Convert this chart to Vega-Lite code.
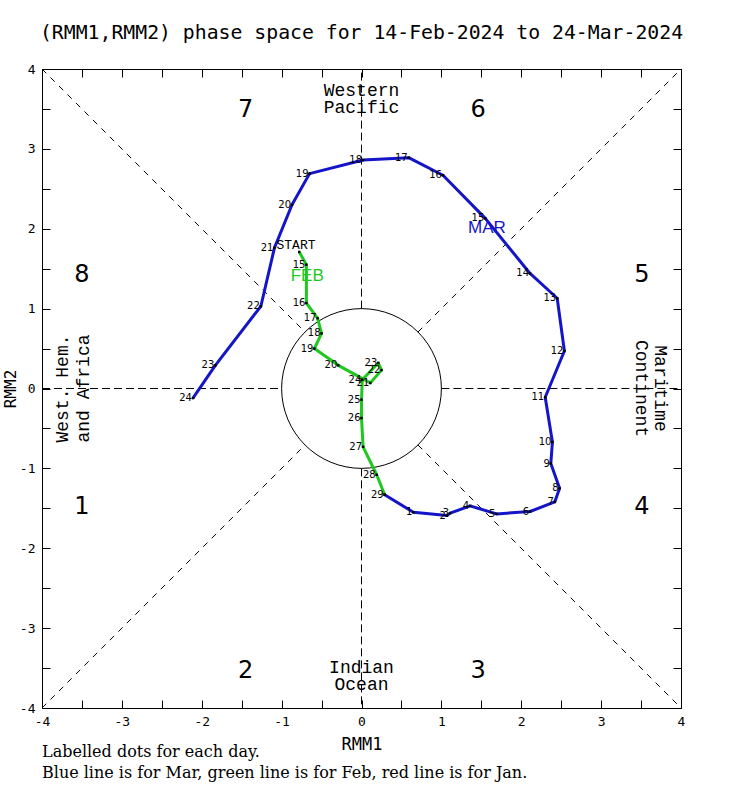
{
  "$schema": "https://vega.github.io/schema/vega-lite/v6.json",
  "width": 639,
  "height": 639,
  "autosize": {"type": "none"},
  "padding": {"left": 42, "top": 69, "right": 50, "bottom": 79},
  "background": "white",
  "title": {
    "text": "(RMM1,RMM2) phase space for 14-Feb-2024 to 24-Mar-2024",
    "font": "DejaVu Sans Mono",
    "fontSize": 19.8,
    "fontWeight": "normal",
    "color": "black",
    "anchor": "middle",
    "offset": 20
  },
  "config": {
    "view": {"stroke": "black", "strokeWidth": 1},
    "axis": {
      "grid": false,
      "domainColor": "black",
      "tickColor": "black",
      "tickSize": -8,
      "labelPadding": 15,
      "values": [-4, -3.5, -3, -2.5, -2, -1.5, -1, -0.5, 0, 0.5, 1, 1.5, 2, 2.5, 3, 3.5, 4],
      "labelExpr": "datum.value % 1 == 0 ? toString(datum.value) : ''",
      "labelFont": "DejaVu Sans Mono",
      "labelFontSize": 13,
      "labelColor": "black",
      "labelFlush": false,
      "labelOverlap": false,
      "titleFont": "DejaVu Sans Mono",
      "titleFontSize": 17,
      "titleFontWeight": "normal",
      "titleColor": "black"
    }
  },
  "resolve": {"axis": {"x": "independent", "y": "independent"}},
  "datasets": {
    "pts": [
      {"m": "Feb", "d": 14, "lab": "", "x": -0.78, "y": 1.71},
      {"m": "Feb", "d": 15, "lab": "15", "x": -0.69, "y": 1.55},
      {"m": "Feb", "d": 16, "lab": "16", "x": -0.69, "y": 1.07},
      {"m": "Feb", "d": 17, "lab": "17", "x": -0.55, "y": 0.88},
      {"m": "Feb", "d": 18, "lab": "18", "x": -0.5, "y": 0.69},
      {"m": "Feb", "d": 19, "lab": "19", "x": -0.59, "y": 0.5},
      {"m": "Feb", "d": 20, "lab": "20", "x": -0.29, "y": 0.29},
      {"m": "Feb", "d": 21, "lab": "21", "x": 0.11, "y": 0.07},
      {"m": "Feb", "d": 22, "lab": "22", "x": 0.25, "y": 0.23},
      {"m": "Feb", "d": 23, "lab": "23", "x": 0.21, "y": 0.32},
      {"m": "Feb", "d": 24, "lab": "24", "x": 0.01, "y": 0.11},
      {"m": "Feb", "d": 25, "lab": "25", "x": 0.0, "y": -0.14},
      {"m": "Feb", "d": 26, "lab": "26", "x": 0.0, "y": -0.37},
      {"m": "Feb", "d": 27, "lab": "27", "x": 0.02, "y": -0.73},
      {"m": "Feb", "d": 28, "lab": "28", "x": 0.19, "y": -1.08},
      {"m": "Feb", "d": 29, "lab": "29", "x": 0.29, "y": -1.33},
      {"m": "Mar", "d": 0, "lab": "", "x": 0.29, "y": -1.33},
      {"m": "Mar", "d": 1, "lab": "1", "x": 0.65, "y": -1.55},
      {"m": "Mar", "d": 2, "lab": "2", "x": 1.07, "y": -1.59},
      {"m": "Mar", "d": 3, "lab": "3", "x": 1.11, "y": -1.56},
      {"m": "Mar", "d": 4, "lab": "4", "x": 1.36, "y": -1.47},
      {"m": "Mar", "d": 5, "lab": "5", "x": 1.69, "y": -1.57},
      {"m": "Mar", "d": 6, "lab": "6", "x": 2.11, "y": -1.54},
      {"m": "Mar", "d": 7, "lab": "7", "x": 2.42, "y": -1.42},
      {"m": "Mar", "d": 8, "lab": "8", "x": 2.48, "y": -1.25},
      {"m": "Mar", "d": 9, "lab": "9", "x": 2.37, "y": -0.94},
      {"m": "Mar", "d": 10, "lab": "10", "x": 2.39, "y": -0.67},
      {"m": "Mar", "d": 11, "lab": "11", "x": 2.3, "y": -0.11},
      {"m": "Mar", "d": 12, "lab": "12", "x": 2.54, "y": 0.47},
      {"m": "Mar", "d": 13, "lab": "13", "x": 2.45, "y": 1.13},
      {"m": "Mar", "d": 14, "lab": "14", "x": 2.11, "y": 1.44},
      {"m": "Mar", "d": 15, "lab": "15", "x": 1.55, "y": 2.13},
      {"m": "Mar", "d": 16, "lab": "16", "x": 1.02, "y": 2.67},
      {"m": "Mar", "d": 17, "lab": "17", "x": 0.59, "y": 2.89},
      {"m": "Mar", "d": 18, "lab": "18", "x": 0.02, "y": 2.86},
      {"m": "Mar", "d": 19, "lab": "19", "x": -0.65, "y": 2.69},
      {"m": "Mar", "d": 20, "lab": "20", "x": -0.87, "y": 2.3},
      {"m": "Mar", "d": 21, "lab": "21", "x": -1.09, "y": 1.76},
      {"m": "Mar", "d": 22, "lab": "22", "x": -1.26, "y": 1.03},
      {"m": "Mar", "d": 23, "lab": "23", "x": -1.83, "y": 0.29},
      {"m": "Mar", "d": 24, "lab": "24", "x": -2.11, "y": -0.12}
    ],
    "axlines": [
      {"x": 0, "y": 1, "x2": 0, "y2": 4},
      {"x": 0, "y": -1, "x2": 0, "y2": -4},
      {"x": -4, "y": 0, "x2": -1, "y2": 0},
      {"x": 1, "y": 0, "x2": 4, "y2": 0}
    ],
    "diags": [
      {"x": -4, "y": -4, "x2": -0.7071, "y2": -0.7071},
      {"x": 0.7071, "y": 0.7071, "x2": 4, "y2": 4},
      {"x": -4, "y": 4, "x2": -0.7071, "y2": 0.7071},
      {"x": 0.7071, "y": -0.7071, "x2": 4, "y2": -4}
    ],
    "phases": [
      {"x": -1.45, "y": 3.49, "t": "7"},
      {"x": 1.46, "y": 3.49, "t": "6"},
      {"x": -3.5, "y": 1.42, "t": "8"},
      {"x": 3.51, "y": 1.42, "t": "5"},
      {"x": -3.5, "y": -1.48, "t": "1"},
      {"x": 3.51, "y": -1.48, "t": "4"},
      {"x": -1.45, "y": -3.54, "t": "2"},
      {"x": 1.46, "y": -3.54, "t": "3"}
    ],
    "regions": [
      {"x": 0, "y": 3.73, "t": "Western"},
      {"x": 0, "y": 3.51, "t": "Pacific"},
      {"x": 0, "y": -3.5, "t": "Indian"},
      {"x": 0, "y": -3.71, "t": "Ocean"}
    ],
    "leftreg": [
      {"x": -3.74, "y": 0, "t": "West. Hem."},
      {"x": -3.47, "y": 0, "t": "and Africa"}
    ],
    "rightreg": [
      {"x": 3.74, "y": 0, "t": "Maritime"},
      {"x": 3.5, "y": 0, "t": "Continent"}
    ],
    "months": [
      {"m": "Mar", "x": 1.57, "y": 2.01, "t": "MAR"},
      {"m": "Feb", "x": -0.68, "y": 1.41, "t": "FEB"}
    ],
    "start": [
      {"x": -0.82, "y": 1.8, "t": "START"}
    ],
    "footer": [
      {"x": -4, "y": -4.55, "t": "Labelled dots for each day."},
      {"x": -4, "y": -4.81, "t": "Blue line is for Mar, green line is for Feb, red line is for Jan."}
    ],
    "origin": [
      {"x": 0, "y": 0}
    ]
  },
  "layer": [
    {
      "data": {"name": "axlines"},
      "mark": {"type": "rule", "color": "black", "strokeWidth": 1, "strokeDash": [8, 4]},
      "encoding": {
        "x": {"field": "x", "type": "quantitative", "scale": {"domain": [-4, 4], "nice": false, "zero": false}, "axis": {"orient": "bottom", "title": "RMM1", "titlePadding": 8}},
        "y": {"field": "y", "type": "quantitative", "scale": {"domain": [-4, 4], "nice": false, "zero": false}, "axis": {"orient": "left", "title": "RMM2", "titlePadding": 1, "titleFontSize": 16}},
        "x2": {"field": "x2"},
        "y2": {"field": "y2"}
      }
    },
    {
      "data": {"name": "diags"},
      "mark": {"type": "rule", "color": "black", "strokeWidth": 1, "strokeDash": [6, 6]},
      "encoding": {
        "x": {"field": "x", "type": "quantitative", "scale": {"domain": [-4, 4], "nice": false, "zero": false}, "axis": {"orient": "top", "labels": false, "title": null, "domain": false}},
        "y": {"field": "y", "type": "quantitative", "scale": {"domain": [-4, 4], "nice": false, "zero": false}, "axis": {"orient": "right", "labels": false, "title": null, "domain": false}},
        "x2": {"field": "x2"},
        "y2": {"field": "y2"}
      }
    },
    {
      "data": {"name": "origin"},
      "mark": {"type": "point", "shape": "circle", "filled": false, "stroke": "black", "strokeWidth": 1, "size": 25520, "opacity": 1},
      "encoding": {
        "x": {"field": "x", "type": "quantitative", "scale": {"domain": [-4, 4], "nice": false, "zero": false}, "axis": null},
        "y": {"field": "y", "type": "quantitative", "scale": {"domain": [-4, 4], "nice": false, "zero": false}, "axis": null}
      }
    },
    {
      "data": {"name": "pts"},
      "mark": {"type": "line", "strokeWidth": 3, "strokeJoin": "round"},
      "encoding": {
        "x": {"field": "x", "type": "quantitative", "scale": {"domain": [-4, 4], "nice": false, "zero": false}, "axis": null},
        "y": {"field": "y", "type": "quantitative", "scale": {"domain": [-4, 4], "nice": false, "zero": false}, "axis": null},
        "color": {"field": "m", "type": "nominal", "scale": {"domain": ["Feb", "Mar"], "range": ["#1ec81e", "#1414c8"]}, "legend": null},
        "order": {"field": "d", "type": "quantitative"}
      }
    },
    {
      "data": {"name": "pts"},
      "mark": {"type": "point", "shape": "square", "filled": true, "color": "black", "size": 6, "opacity": 1},
      "encoding": {
        "x": {"field": "x", "type": "quantitative", "scale": {"domain": [-4, 4], "nice": false, "zero": false}, "axis": null},
        "y": {"field": "y", "type": "quantitative", "scale": {"domain": [-4, 4], "nice": false, "zero": false}, "axis": null}
      }
    },
    {
      "data": {"name": "pts"},
      "mark": {"type": "text", "font": "DejaVu Sans", "fontSize": 10, "color": "black", "align": "right", "baseline": "middle", "dx": -1},
      "encoding": {
        "x": {"field": "x", "type": "quantitative", "scale": {"domain": [-4, 4], "nice": false, "zero": false}, "axis": null},
        "y": {"field": "y", "type": "quantitative", "scale": {"domain": [-4, 4], "nice": false, "zero": false}, "axis": null},
        "text": {"field": "lab"}
      }
    },
    {
      "data": {"name": "phases"},
      "mark": {"type": "text", "font": "DejaVu Sans", "fontSize": 24, "color": "black", "align": "center", "baseline": "middle"},
      "encoding": {
        "x": {"field": "x", "type": "quantitative", "scale": {"domain": [-4, 4], "nice": false, "zero": false}, "axis": null},
        "y": {"field": "y", "type": "quantitative", "scale": {"domain": [-4, 4], "nice": false, "zero": false}, "axis": null},
        "text": {"field": "t"}
      }
    },
    {
      "data": {"name": "regions"},
      "mark": {"type": "text", "font": "Liberation Mono", "fontSize": 18, "color": "black", "align": "center", "baseline": "middle"},
      "encoding": {
        "x": {"field": "x", "type": "quantitative", "scale": {"domain": [-4, 4], "nice": false, "zero": false}, "axis": null},
        "y": {"field": "y", "type": "quantitative", "scale": {"domain": [-4, 4], "nice": false, "zero": false}, "axis": null},
        "text": {"field": "t"}
      }
    },
    {
      "data": {"name": "leftreg"},
      "mark": {"type": "text", "font": "Liberation Mono", "fontSize": 18, "color": "black", "align": "center", "baseline": "middle", "angle": 270},
      "encoding": {
        "x": {"field": "x", "type": "quantitative", "scale": {"domain": [-4, 4], "nice": false, "zero": false}, "axis": null},
        "y": {"field": "y", "type": "quantitative", "scale": {"domain": [-4, 4], "nice": false, "zero": false}, "axis": null},
        "text": {"field": "t"}
      }
    },
    {
      "data": {"name": "rightreg"},
      "mark": {"type": "text", "font": "Liberation Mono", "fontSize": 18, "color": "black", "align": "center", "baseline": "middle", "angle": 90},
      "encoding": {
        "x": {"field": "x", "type": "quantitative", "scale": {"domain": [-4, 4], "nice": false, "zero": false}, "axis": null},
        "y": {"field": "y", "type": "quantitative", "scale": {"domain": [-4, 4], "nice": false, "zero": false}, "axis": null},
        "text": {"field": "t"}
      }
    },
    {
      "data": {"name": "months"},
      "mark": {"type": "text", "font": "Liberation Sans", "fontSize": 17, "align": "center", "baseline": "middle"},
      "encoding": {
        "x": {"field": "x", "type": "quantitative", "scale": {"domain": [-4, 4], "nice": false, "zero": false}, "axis": null},
        "y": {"field": "y", "type": "quantitative", "scale": {"domain": [-4, 4], "nice": false, "zero": false}, "axis": null},
        "color": {"field": "m", "type": "nominal", "scale": {"domain": ["Feb", "Mar"], "range": ["#1ec81e", "#1414c8"]}, "legend": null},
        "text": {"field": "t"}
      }
    },
    {
      "data": {"name": "start"},
      "mark": {"type": "text", "font": "Liberation Mono", "fontSize": 13, "color": "black", "align": "center", "baseline": "middle"},
      "encoding": {
        "x": {"field": "x", "type": "quantitative", "scale": {"domain": [-4, 4], "nice": false, "zero": false}, "axis": null},
        "y": {"field": "y", "type": "quantitative", "scale": {"domain": [-4, 4], "nice": false, "zero": false}, "axis": null},
        "text": {"field": "t"}
      }
    },
    {
      "data": {"name": "footer"},
      "mark": {"type": "text", "font": "DejaVu Serif", "fontSize": 16, "color": "black", "align": "left", "baseline": "middle"},
      "encoding": {
        "x": {"field": "x", "type": "quantitative", "scale": {"domain": [-4, 4], "nice": false, "zero": false}, "axis": null},
        "y": {"field": "y", "type": "quantitative", "scale": {"domain": [-4, 4], "nice": false, "zero": false}, "axis": null},
        "text": {"field": "t"}
      }
    }
  ]
}
